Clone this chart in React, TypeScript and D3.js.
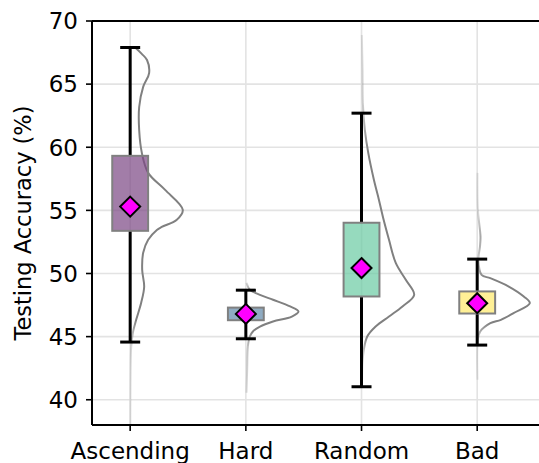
import * as d3 from "d3";

// categories and summary stats
const categories = ["Ascending", "Hard", "Random", "Bad"];
const means = [55.3, 46.8, 50.43, 47.65];
const boxLow = [53.38, 46.3, 48.18, 46.83];
const boxHigh = [59.32, 47.3, 54.02, 48.58];
const whiskerLow = [44.57, 44.83, 41.03, 44.33];
const whiskerHigh = [67.9, 48.68, 62.7, 51.14];
const boxColors = ["#7a4683", "#5f88a8", "#69caa2", "#ffea69"];
const yTicks = [40, 45, 50, 55, 60, 65, 70];

// half-violin outlines: [accuracy, relative density]
const ascendingKde: [number, number][] = [
  [37.6, 0.004], [40, 0.006], [42.37, 0.01], [44.2, 0.02], [45.3, 0.051],
  [46.33, 0.114], [47.68, 0.209], [48.95, 0.266], [50.29, 0.228], [51.64, 0.247],
  [52.67, 0.342], [53.45, 0.507], [53.69, 0.6], [54.25, 0.886], [55.04, 1.0],
  [56.62, 0.664], [57.97, 0.342], [59.55, 0.222], [61.37, 0.171], [63.19, 0.171],
  [64.78, 0.247], [65.88, 0.36], [66.91, 0.32], [67.4, 0.22], [67.9, 0.095],
];
const hardKde: [number, number][] = [
  [40.55, 0.013], [42.37, 0.025], [44.22, 0.038], [45.01, 0.076], [45.41, 0.134],
  [45.8, 0.268], [46.2, 0.516], [46.59, 0.874], [46.99, 1.0], [47.39, 0.841],
  [47.92, 0.516], [48.31, 0.268], [48.71, 0.076], [49.26, 0.013],
];
const randomKde: [number, number][] = [
  [41.58, 0.01], [42.93, 0.019], [43.96, 0.044], [45.01, 0.109], [45.8, 0.268],
  [46.59, 0.522], [47.39, 0.778], [48.31, 1.0], [49.5, 0.841], [50.84, 0.65],
  [52.67, 0.522], [54.25, 0.42], [55.83, 0.331], [57.42, 0.235], [59.55, 0.128],
  [61.37, 0.063], [63.51, 0.025], [66.12, 0.019], [68.89, 0.006],
];
const badKde: [number, number][] = [
  [41.58, 0.006], [44.75, 0.013], [45.41, 0.058], [46.07, 0.25], [46.33, 0.45],
  [46.86, 0.69], [47.65, 1.0], [48.18, 0.885], [48.97, 0.6], [49.63, 0.25],
  [49.89, 0.083], [51.08, 0.023], [52.11, 0.052], [52.9, 0.063], [55.04, 0.013],
  [57.97, 0.006],
];
const violins = [ascendingKde, hardKde, randomKde, badKde];

const W = 539;
const H = 463;
const left = 92;
const top = 21;
const bottom = 425;

export default function App() {
  const x = d3.scaleLinear().domain([-0.33, 3.67]).range([left, 554.7]);
  const y = d3.scaleLinear().domain([38, 70]).range([bottom, top]);
  const unit = x(1) - x(0);
  const violinHalf = 0.455 * unit;
  const boxHalf = 0.155 * unit;
  const capHalf = 10;
  const dm = 10;

  const line = d3
    .line<[number, number]>()
    .x((d) => d[0])
    .y((d) => d[1])
    .curve(d3.curveCatmullRom);

  return (
    <svg
      width={W}
      height={H}
      style={{ position: "absolute", left: 0, top: 0, background: "#fff" }}
      fontFamily="DejaVu Sans"
    >
      <defs>
        <clipPath id="plot">
          <rect x={left} y={top} width={W - left} height={bottom - top} />
        </clipPath>
        {violins.map((kde, i) => {
          const y0 = y(kde[kde.length - 1][0]);
          const y1 = y(kde[0][0]);
          return (
            <linearGradient
              key={i}
              id={"vg" + i}
              gradientUnits="userSpaceOnUse"
              x1={0}
              x2={0}
              y1={y0}
              y2={y1}
            >
              {kde
                .slice()
                .reverse()
                .map((d, j) => {
                  const px = d[1] * violinHalf;
                  const op = Math.min(1, 0.15 + px / 6);
                  return (
                    <stop
                      key={j}
                      offset={(y(d[0]) - y0) / (y1 - y0)}
                      stopColor="#808080"
                      stopOpacity={op}
                    />
                  );
                })}
            </linearGradient>
          );
        })}
      </defs>

      {/* grid */}
      <g stroke="#e3e3e3" strokeWidth={1.6}>
        {yTicks.map((t) => (
          <line key={t} x1={left} x2={W} y1={y(t)} y2={y(t)} />
        ))}
        {categories.map((c, i) => (
          <line key={c} x1={x(i)} x2={x(i)} y1={top} y2={bottom} />
        ))}
      </g>

      <g clipPath="url(#plot)">
        {violins.map((kde, i) => (
          <path
            key={i}
            d={line(kde.map((d) => [x(i) + d[1] * violinHalf, y(d[0])]))!}
            fill="none"
            stroke={`url(#vg${i})`}
            strokeWidth={2}
          />
        ))}
      </g>

      {categories.map((c, i) => {
        const cx = x(i);
        return (
          <g key={c}>
            <line x1={cx} x2={cx} y1={y(whiskerHigh[i])} y2={y(boxHigh[i])} stroke="#000" strokeWidth={3} />
            <line x1={cx} x2={cx} y1={y(boxLow[i])} y2={y(whiskerLow[i])} stroke="#000" strokeWidth={3} />
            <rect
              x={cx - boxHalf}
              y={y(boxHigh[i])}
              width={boxHalf * 2}
              height={y(boxLow[i]) - y(boxHigh[i])}
              fill={boxColors[i]}
              fillOpacity={0.7}
              stroke="#808080"
              strokeWidth={2}
            />
            <line x1={cx - capHalf} x2={cx + capHalf} y1={y(whiskerHigh[i])} y2={y(whiskerHigh[i])} stroke="#000" strokeWidth={3} />
            <line x1={cx - capHalf} x2={cx + capHalf} y1={y(whiskerLow[i])} y2={y(whiskerLow[i])} stroke="#000" strokeWidth={3} />
            <path
              d={`M${cx},${y(means[i]) - dm}L${cx + dm},${y(means[i])}L${cx},${y(means[i]) + dm}L${cx - dm},${y(means[i])}Z`}
              fill="#ff00ff"
              stroke="#000"
              strokeWidth={2}
            />
          </g>
        );
      })}

      {/* spines */}
      <g stroke="#000" strokeWidth={2} fill="none">
        <line x1={left} x2={left} y1={top} y2={bottom} />
        <line x1={left} x2={W} y1={top} y2={top} />
        <line x1={left} x2={W} y1={bottom} y2={bottom} />
      </g>

      {/* y axis */}
      {yTicks.map((t) => (
        <g key={t}>
          <line x1={left - 6} x2={left} y1={y(t)} y2={y(t)} stroke="#000" strokeWidth={1.6} />
          <text x={left - 14} y={y(t)} dy="0.36em" textAnchor="end" fontSize={23}>
            {t}
          </text>
        </g>
      ))}
      <text
        transform={`translate(31,${(top + bottom) / 2}) rotate(-90)`}
        textAnchor="middle"
        fontSize={22.5}
      >
        Testing Accuracy (%)
      </text>

      {/* x axis */}
      {categories.map((c, i) => (
        <g key={c}>
          <line x1={x(i)} x2={x(i)} y1={bottom} y2={bottom + 6} stroke="#000" strokeWidth={1.6} />
          <text x={x(i)} y={459} textAnchor="middle" fontSize={23}>
            {c}
          </text>
        </g>
      ))}
    </svg>
  );
}
